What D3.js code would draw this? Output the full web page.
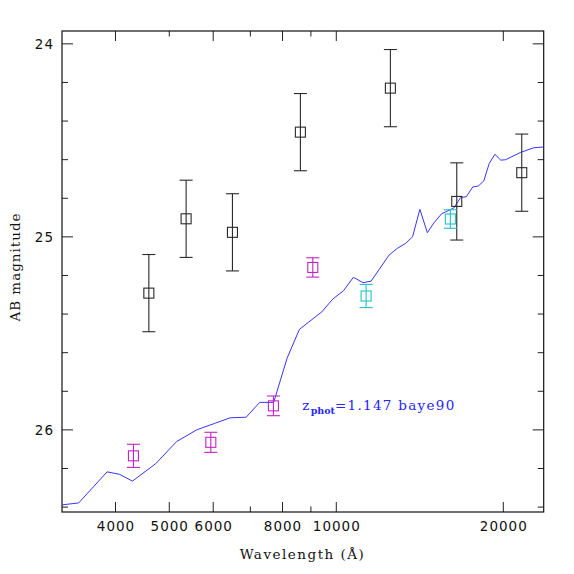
<!DOCTYPE html>
<html>
<head>
<meta charset="utf-8">
<script src="https://cdn.jsdelivr.net/npm/d3@7"></script>
<style>
  html, body { margin: 0; padding: 0; background: #fff; }
  svg { display: block; }
</style>
</head>
<body>
<svg id="chart" width="574" height="574"></svg>
<script>
// ---- Data (wavelength in Å, AB magnitude) ----
const templateWave = [3212, 3440, 3871, 4078, 4300, 4734, 5166, 5617, 6048, 6450, 6893, 7292, 7728, 8170, 8598, 9436, 9876, 10329, 10757, 11200, 11578, 12475, 12912, 13371, 13753, 14176, 14624, 15017, 15512, 16317, 16800, 17187, 17656, 18071, 18480, 18906, 19352, 19830, 20230, 21529, 22740, 23700];
const templateMag  = [26.391, 26.381, 26.220, 26.233, 26.268, 26.178, 26.063, 26.002, 25.969, 25.940, 25.937, 25.860, 25.860, 25.631, 25.482, 25.391, 25.325, 25.281, 25.212, 25.240, 25.232, 25.097, 25.062, 25.036, 25.002, 24.860, 24.981, 24.931, 24.883, 24.853, 24.798, 24.795, 24.744, 24.739, 24.713, 24.622, 24.575, 24.605, 24.603, 24.565, 24.541, 24.537];

const obsWave = [4603, 5373, 6512, 8634, 12543, 16521, 21636];
const obsMag  = [25.294, 24.909, 24.979, 24.460, 24.232, 24.819, 24.670];
const obsErr  = [0.20, 0.20, 0.20, 0.20, 0.20, 0.20, 0.20];

const magWave = [4318, 5953, 7719, 9090];
const magMag  = [26.137, 26.067, 25.878, 25.161];
const magErr  = [0.060, 0.052, 0.051, 0.050];

const cyanWave = [11340, 16089];
const cyanMag  = [25.309, 24.910];
const cyanErr  = [0.060, 0.048];

const xMajorTicks = [4000, 5000, 6000, 8000, 10000, 20000];
const xMinorTicks = [7000, 9000];
const yMajorTicks = [24, 25, 26];
const yMinorTicks = [24.2, 24.4, 24.6, 24.8, 25.2, 25.4, 25.6, 25.8, 26.2, 26.4];

const xDomain = [3210, 23700];
const yDomain = [23.936, 26.428];
const annotation = { z: "z", sub: "phot", rest: "=1.147 baye90", wave: 8700, mag: 25.9 };

// ---- Layout ----
const L = 62, R = 543.7, T = 31, B = 512;
const svg = d3.select("#chart");
const x = d3.scaleLog().domain(xDomain).range([L, R]);
const y = d3.scaleLinear().domain(yDomain).range([T, B]);

const tickColor = "#222";
const labelFont = "'DejaVu Serif', serif";
const tickFont = "'DejaVu Sans', sans-serif";

function axisGroup(axis, tx, ty) {
  const g = svg.append("g").attr("transform", `translate(${tx},${ty})`).call(axis);
  g.select(".domain").remove();
  g.selectAll(".tick line").attr("stroke", tickColor).attr("stroke-width", 1);
  return g;
}
// bottom
const gb = axisGroup(d3.axisBottom(x).tickValues(xMajorTicks).tickSize(-10).tickFormat(d3.format("d")), 0, B);
gb.selectAll(".tick text")
  .attr("font-family", tickFont).attr("font-size", 13.5).attr("letter-spacing", "1px")
  .attr("fill", "#111").attr("y", 0).attr("dy", 19).attr("dx", 0.5);
axisGroup(d3.axisBottom(x).tickValues(xMinorTicks).tickSize(-5.5).tickFormat(""), 0, B);
// top
axisGroup(d3.axisTop(x).tickValues(xMajorTicks.filter(d => d !== 5000)).tickSize(-10).tickFormat(""), 0, T);
axisGroup(d3.axisTop(x).tickValues([5000].concat(xMinorTicks)).tickSize(-5.5).tickFormat(""), 0, T);
// left
const gl = axisGroup(d3.axisLeft(y).tickValues(yMajorTicks).tickSize(-11).tickFormat(d3.format("d")), L, 0);
gl.selectAll(".tick text")
  .attr("font-family", tickFont).attr("font-size", 13.5).attr("letter-spacing", "1px")
  .attr("fill", "#111").attr("x", -8).attr("dy", "0.35em");
axisGroup(d3.axisLeft(y).tickValues(yMinorTicks).tickSize(-6).tickFormat(""), L, 0);
// right
axisGroup(d3.axisRight(y).tickValues(yMajorTicks).tickSize(-11).tickFormat(""), R, 0);
axisGroup(d3.axisRight(y).tickValues(yMinorTicks).tickSize(-6).tickFormat(""), R, 0);

// Frame
svg.append("rect").attr("x", L).attr("y", T).attr("width", R - L).attr("height", B - T)
  .attr("fill", "none").attr("stroke", "#111").attr("stroke-width", 1.2);

// Template line
const tpl = templateWave.map((w, i) => [w, templateMag[i]]);
svg.append("path").datum(tpl)
  .attr("fill", "none").attr("stroke", "#3535ff").attr("stroke-width", 1)
  .attr("d", d3.line().x(d => x(d[0])).y(d => y(d[1])));

// Points with error bars
function drawPoints(waves, mags, errs, color, cap) {
  const g = svg.append("g").attr("stroke", color).attr("fill", "none").attr("stroke-width", 1.1);
  waves.forEach((w, i) => {
    const cx = x(w), m = mags[i], e = errs[i];
    const y1 = y(m - e), y2 = y(m + e);
    g.append("line").attr("x1", cx).attr("x2", cx).attr("y1", y1).attr("y2", y2);
    g.append("line").attr("x1", cx - cap).attr("x2", cx + cap).attr("y1", y1).attr("y2", y1);
    g.append("line").attr("x1", cx - cap).attr("x2", cx + cap).attr("y1", y2).attr("y2", y2);
    g.append("rect").attr("x", cx - 5).attr("y", y(m) - 5).attr("width", 10).attr("height", 10);
  });
}
drawPoints(obsWave, obsMag, obsErr, "#2a2a2a", 6.5);
drawPoints(magWave, magMag, magErr, "#c423c4", 6.5);
drawPoints(cyanWave, cyanMag, cyanErr, "#22c2c8", 6.5);

// Annotation
const at = svg.append("text").attr("x", x(annotation.wave)).attr("y", y(annotation.mag))
  .attr("font-family", labelFont).attr("font-size", 13.5).attr("fill", "#2525ff")
  .attr("letter-spacing", "1.3px");
at.append("tspan").text(annotation.z);
at.append("tspan").attr("font-size", 9.5).attr("dy", 4).attr("font-weight", "bold")
  .attr("letter-spacing", "0px").text(annotation.sub);
at.append("tspan").attr("dy", -4).attr("letter-spacing", "1.3px").text(annotation.rest);

// Axis labels
svg.append("text").attr("x", 302.5).attr("y", 559).attr("text-anchor", "middle")
  .attr("font-family", labelFont).attr("font-size", 13.5).attr("fill", "#111")
  .attr("letter-spacing", "1.5px")
  .text("Wavelength (Å)");
svg.append("text").attr("transform", "translate(20,267) rotate(-90)").attr("text-anchor", "middle")
  .attr("font-family", labelFont).attr("font-size", 13.5).attr("fill", "#111")
  .attr("letter-spacing", "1px")
  .text("AB magnitude");
</script>
</body>
</html>
